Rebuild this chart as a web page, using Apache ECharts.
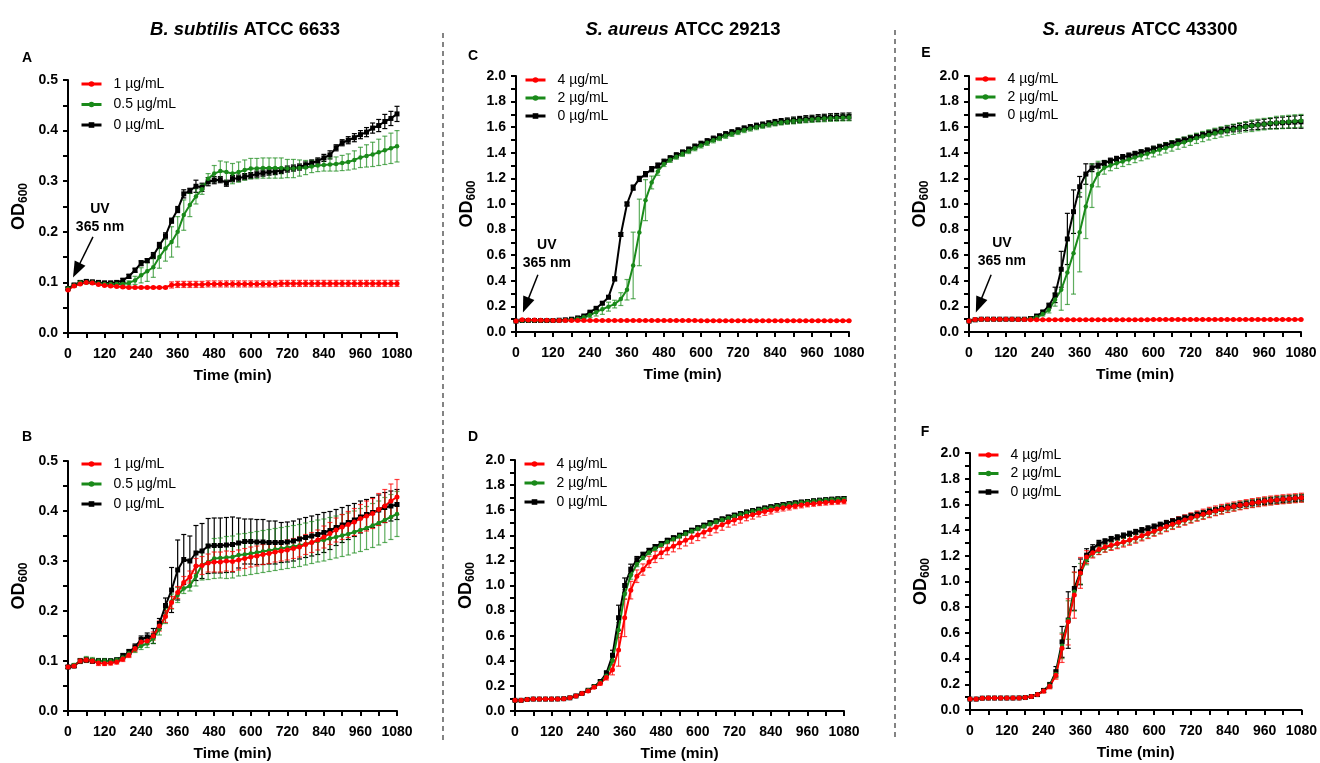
<!DOCTYPE html>
<html>
<head>
<meta charset="utf-8">
<script src="https://cdn.jsdelivr.net/npm/echarts@6/dist/echarts.min.js"></script>
<style>
  html, body { margin: 0; padding: 0; background: #fff; }
  #chart { width: 1320px; height: 763px; }
</style>
</head>
<body>
<div id="chart"></div>
<script>
// Sampling times (min)
const times = [0,20,40,60,80,100,120,140,160,180,200,220,240,260,280,300,320,340,360,380,400,420,440,460,480,500,520,540,560,580,600,620,640,660,680,700,720,740,760,780,800,820,840,860,880,900,920,940,960,980,1000,1020,1040,1060,1080];

const bsDoses = ['1 µg/mL', '0.5 µg/mL', '0 µg/mL'];
const saDoses = ['4 µg/mL', '2 µg/mL', '0 µg/mL'];

const bsTicks = ['0.0','0.1','0.2','0.3','0.4','0.5'];
const saTicks = ['0.0','0.2','0.4','0.6','0.8','1.0','1.2','1.4','1.6','1.8','2.0'];
const timeTicks = ['0','120','240','360','480','600','720','840','960','1080'];

// ---- A: B. subtilis, irradiated ----
const A_1 = [0.085,0.093,0.097,0.100,0.099,0.096,0.094,0.093,0.092,0.091,0.090,0.090,0.090,0.090,0.090,0.090,0.090,0.095,0.096,0.096,0.096,0.096,0.096,0.097,0.097,0.097,0.097,0.097,0.097,0.097,0.097,0.097,0.097,0.097,0.097,0.098,0.098,0.098,0.098,0.098,0.098,0.098,0.098,0.098,0.098,0.098,0.098,0.098,0.098,0.098,0.098,0.098,0.098,0.098,0.098];
const A_1e = [0.002,0.002,0.002,0.002,0.002,0.002,0.002,0.002,0.002,0.002,0.002,0.002,0.002,0.002,0.002,0.002,0.002,0.006,0.006,0.006,0.006,0.006,0.006,0.006,0.006,0.006,0.006,0.006,0.006,0.006,0.006,0.006,0.006,0.006,0.006,0.006,0.006,0.006,0.006,0.006,0.006,0.006,0.006,0.006,0.006,0.006,0.006,0.006,0.006,0.006,0.006,0.006,0.006,0.006,0.006];
const A_05 = [0.088,0.094,0.100,0.100,0.100,0.098,0.097,0.097,0.097,0.097,0.099,0.104,0.114,0.122,0.130,0.150,0.167,0.180,0.200,0.233,0.253,0.270,0.284,0.305,0.315,0.320,0.318,0.315,0.318,0.322,0.325,0.325,0.326,0.326,0.326,0.326,0.325,0.325,0.326,0.327,0.329,0.331,0.332,0.333,0.334,0.336,0.338,0.342,0.347,0.350,0.353,0.357,0.361,0.365,0.369];
const A_05e = [0.003,0.003,0.003,0.003,0.003,0.003,0.003,0.003,0.003,0.003,0.004,0.008,0.015,0.020,0.020,0.022,0.025,0.030,0.030,0.030,0.023,0.015,0.010,0.010,0.016,0.020,0.020,0.020,0.020,0.020,0.020,0.020,0.020,0.020,0.020,0.020,0.018,0.018,0.016,0.014,0.012,0.012,0.012,0.013,0.014,0.015,0.016,0.018,0.020,0.022,0.024,0.026,0.028,0.030,0.031];
const A_0 = [0.088,0.095,0.100,0.102,0.101,0.100,0.099,0.099,0.100,0.104,0.112,0.124,0.138,0.143,0.153,0.173,0.192,0.222,0.244,0.275,0.281,0.290,0.288,0.299,0.302,0.303,0.296,0.305,0.306,0.309,0.311,0.314,0.316,0.318,0.319,0.321,0.324,0.326,0.328,0.332,0.336,0.340,0.346,0.352,0.366,0.376,0.381,0.386,0.392,0.397,0.405,0.410,0.418,0.424,0.433];
const A_0e = [0.002,0.002,0.003,0.003,0.003,0.003,0.003,0.003,0.003,0.004,0.004,0.004,0.005,0.004,0.006,0.006,0.006,0.005,0.006,0.008,0.005,0.012,0.008,0.008,0.007,0.006,0.006,0.006,0.006,0.006,0.006,0.006,0.006,0.006,0.006,0.006,0.006,0.006,0.006,0.006,0.006,0.006,0.007,0.008,0.006,0.006,0.007,0.008,0.008,0.009,0.010,0.012,0.014,0.014,0.015];

// ---- B: B. subtilis, dark control ----
const B_1 = [0.088,0.090,0.100,0.102,0.100,0.096,0.095,0.096,0.098,0.104,0.112,0.125,0.138,0.140,0.150,0.170,0.189,0.217,0.237,0.257,0.268,0.290,0.291,0.296,0.298,0.298,0.300,0.299,0.302,0.305,0.308,0.310,0.313,0.315,0.318,0.320,0.322,0.325,0.328,0.333,0.337,0.342,0.348,0.355,0.362,0.368,0.373,0.378,0.385,0.390,0.395,0.403,0.410,0.420,0.428];
const B_1e = [0.003,0.003,0.004,0.004,0.004,0.005,0.004,0.004,0.004,0.005,0.005,0.006,0.007,0.007,0.008,0.010,0.012,0.012,0.012,0.012,0.012,0.015,0.018,0.018,0.020,0.020,0.020,0.020,0.020,0.020,0.020,0.020,0.020,0.020,0.020,0.020,0.020,0.020,0.020,0.020,0.020,0.020,0.022,0.022,0.024,0.025,0.026,0.027,0.028,0.030,0.030,0.032,0.033,0.034,0.035];
const B_05 = [0.088,0.092,0.100,0.103,0.102,0.100,0.100,0.100,0.102,0.107,0.115,0.123,0.130,0.135,0.145,0.164,0.190,0.219,0.232,0.245,0.250,0.270,0.292,0.298,0.305,0.306,0.307,0.308,0.312,0.313,0.315,0.317,0.319,0.321,0.323,0.325,0.327,0.329,0.331,0.334,0.337,0.340,0.342,0.345,0.348,0.351,0.354,0.358,0.362,0.366,0.371,0.376,0.382,0.388,0.394];
const B_05e = [0.003,0.003,0.005,0.006,0.005,0.005,0.005,0.004,0.004,0.005,0.006,0.006,0.007,0.008,0.010,0.012,0.015,0.015,0.015,0.010,0.010,0.020,0.030,0.035,0.040,0.040,0.042,0.042,0.042,0.042,0.042,0.042,0.042,0.042,0.042,0.042,0.042,0.042,0.042,0.042,0.042,0.042,0.042,0.042,0.042,0.042,0.042,0.042,0.043,0.043,0.044,0.044,0.045,0.045,0.045];
const B_0 = [0.088,0.090,0.100,0.102,0.100,0.100,0.100,0.100,0.102,0.110,0.118,0.128,0.143,0.148,0.150,0.175,0.211,0.242,0.282,0.303,0.300,0.316,0.320,0.330,0.331,0.331,0.332,0.333,0.336,0.339,0.339,0.338,0.338,0.337,0.337,0.337,0.338,0.340,0.344,0.347,0.350,0.353,0.357,0.361,0.367,0.372,0.377,0.382,0.388,0.393,0.397,0.402,0.407,0.410,0.413];
const B_0e = [0.003,0.003,0.004,0.004,0.004,0.004,0.004,0.004,0.004,0.005,0.005,0.006,0.007,0.008,0.015,0.010,0.015,0.045,0.060,0.050,0.050,0.055,0.055,0.055,0.055,0.055,0.055,0.055,0.050,0.045,0.045,0.045,0.045,0.043,0.043,0.040,0.040,0.040,0.040,0.040,0.040,0.040,0.040,0.038,0.036,0.035,0.034,0.033,0.032,0.030,0.030,0.030,0.030,0.030,0.030];

// ---- C: S. aureus ATCC 29213, irradiated ----
const C_4 = [0.085,0.095,0.094,0.093,0.092,0.091,0.090,0.090,0.090,0.090,0.089,0.089,0.089,0.089,0.089,0.089,0.089,0.089,0.089,0.089,0.089,0.089,0.089,0.089,0.089,0.089,0.089,0.089,0.089,0.089,0.088,0.088,0.088,0.088,0.088,0.088,0.088,0.088,0.088,0.088,0.088,0.088,0.088,0.088,0.088,0.088,0.088,0.088,0.088,0.088,0.088,0.088,0.088,0.088,0.088];
const C_4e = [0.004,0.004,0.004,0.004,0.004,0.004,0.004,0.004,0.004,0.004,0.004,0.004,0.004,0.004,0.004,0.004,0.004,0.004,0.004,0.004,0.004,0.004,0.004,0.004,0.004,0.004,0.004,0.004,0.004,0.004,0.004,0.004,0.004,0.004,0.004,0.004,0.004,0.004,0.004,0.004,0.004,0.004,0.004,0.004,0.004,0.004,0.004,0.004,0.004,0.004,0.004,0.004,0.004,0.004,0.004];
const C_2 = [0.085,0.090,0.090,0.090,0.090,0.090,0.090,0.090,0.092,0.095,0.103,0.115,0.133,0.155,0.178,0.198,0.218,0.257,0.330,0.520,0.778,1.030,1.168,1.254,1.313,1.345,1.370,1.392,1.414,1.436,1.458,1.478,1.498,1.516,1.533,1.548,1.563,1.578,1.590,1.601,1.611,1.621,1.630,1.637,1.643,1.648,1.653,1.657,1.661,1.664,1.667,1.670,1.672,1.674,1.675];
const C_2e = [0.004,0.004,0.004,0.004,0.004,0.004,0.004,0.004,0.004,0.004,0.006,0.010,0.020,0.030,0.040,0.035,0.030,0.050,0.080,0.260,0.260,0.160,0.050,0.030,0.020,0.020,0.020,0.020,0.020,0.020,0.020,0.020,0.020,0.020,0.020,0.020,0.020,0.020,0.020,0.020,0.020,0.020,0.020,0.020,0.020,0.022,0.022,0.022,0.023,0.023,0.024,0.024,0.025,0.025,0.025];
const C_0 = [0.085,0.090,0.090,0.090,0.090,0.090,0.090,0.092,0.095,0.100,0.110,0.125,0.155,0.185,0.225,0.272,0.415,0.762,1.000,1.128,1.196,1.233,1.272,1.300,1.330,1.357,1.380,1.402,1.425,1.448,1.470,1.490,1.510,1.528,1.545,1.560,1.575,1.590,1.600,1.611,1.620,1.630,1.638,1.645,1.650,1.655,1.660,1.665,1.668,1.672,1.675,1.678,1.680,1.682,1.683];
const C_0e = [0.004,0.004,0.004,0.004,0.004,0.004,0.004,0.004,0.004,0.005,0.005,0.006,0.008,0.010,0.010,0.012,0.015,0.015,0.015,0.020,0.020,0.020,0.020,0.020,0.020,0.020,0.020,0.020,0.020,0.020,0.020,0.020,0.020,0.020,0.020,0.020,0.020,0.020,0.020,0.020,0.020,0.020,0.022,0.022,0.022,0.024,0.024,0.025,0.025,0.026,0.026,0.027,0.027,0.028,0.028];

// ---- D: S. aureus ATCC 29213, dark control ----
const D_4 = [0.085,0.085,0.092,0.095,0.095,0.095,0.095,0.096,0.098,0.105,0.120,0.140,0.160,0.190,0.220,0.267,0.328,0.487,0.743,0.963,1.074,1.127,1.188,1.228,1.260,1.290,1.313,1.338,1.360,1.382,1.403,1.425,1.445,1.465,1.485,1.505,1.522,1.537,1.551,1.564,1.577,1.589,1.600,1.610,1.619,1.627,1.634,1.641,1.647,1.652,1.657,1.661,1.665,1.668,1.671];
const D_4e = [0.004,0.004,0.004,0.004,0.004,0.004,0.004,0.004,0.004,0.004,0.005,0.006,0.008,0.010,0.012,0.020,0.040,0.130,0.150,0.070,0.050,0.045,0.045,0.045,0.045,0.045,0.045,0.045,0.045,0.045,0.045,0.045,0.045,0.045,0.045,0.040,0.040,0.040,0.035,0.035,0.030,0.030,0.030,0.025,0.025,0.025,0.022,0.022,0.020,0.020,0.020,0.020,0.020,0.020,0.020];
const D_2 = [0.085,0.085,0.092,0.095,0.095,0.095,0.095,0.096,0.098,0.105,0.120,0.140,0.165,0.195,0.230,0.280,0.400,0.645,0.930,1.080,1.170,1.222,1.262,1.295,1.322,1.348,1.370,1.392,1.413,1.433,1.453,1.472,1.490,1.507,1.523,1.538,1.553,1.566,1.579,1.591,1.602,1.612,1.622,1.631,1.640,1.647,1.654,1.661,1.667,1.672,1.677,1.681,1.685,1.688,1.690];
const D_2e = [0.004,0.004,0.004,0.004,0.004,0.004,0.004,0.004,0.004,0.004,0.005,0.006,0.008,0.010,0.012,0.015,0.030,0.060,0.040,0.030,0.020,0.015,0.015,0.015,0.015,0.015,0.015,0.015,0.015,0.015,0.015,0.015,0.015,0.015,0.015,0.015,0.015,0.015,0.015,0.015,0.015,0.015,0.015,0.015,0.015,0.015,0.015,0.015,0.015,0.015,0.015,0.015,0.015,0.015,0.015];
const D_0 = [0.085,0.085,0.092,0.095,0.095,0.095,0.095,0.096,0.098,0.105,0.120,0.140,0.165,0.195,0.235,0.300,0.444,0.743,1.000,1.130,1.206,1.245,1.280,1.310,1.335,1.360,1.380,1.400,1.420,1.440,1.460,1.480,1.500,1.515,1.530,1.545,1.560,1.572,1.585,1.596,1.607,1.617,1.627,1.636,1.644,1.651,1.658,1.664,1.669,1.674,1.679,1.683,1.687,1.690,1.693];
const D_0e = [0.004,0.004,0.004,0.004,0.004,0.004,0.004,0.004,0.004,0.004,0.005,0.006,0.008,0.010,0.012,0.020,0.040,0.100,0.060,0.040,0.025,0.020,0.015,0.015,0.015,0.015,0.015,0.015,0.015,0.015,0.015,0.015,0.015,0.015,0.015,0.015,0.015,0.015,0.015,0.015,0.015,0.015,0.015,0.015,0.015,0.015,0.015,0.015,0.015,0.015,0.015,0.015,0.015,0.015,0.015];

// ---- E: S. aureus ATCC 43300, irradiated ----
const E_4 = [0.085,0.098,0.100,0.100,0.100,0.100,0.100,0.099,0.098,0.097,0.096,0.096,0.096,0.096,0.096,0.096,0.096,0.096,0.096,0.096,0.096,0.096,0.096,0.096,0.096,0.096,0.096,0.096,0.096,0.096,0.098,0.098,0.098,0.098,0.098,0.098,0.098,0.098,0.098,0.098,0.098,0.098,0.098,0.098,0.098,0.098,0.098,0.098,0.098,0.098,0.098,0.098,0.098,0.098,0.098];
const E_4e = [0.004,0.004,0.004,0.004,0.004,0.004,0.004,0.004,0.004,0.004,0.004,0.004,0.004,0.004,0.004,0.004,0.004,0.004,0.004,0.004,0.004,0.004,0.004,0.004,0.004,0.004,0.004,0.004,0.004,0.004,0.004,0.004,0.004,0.004,0.004,0.004,0.004,0.004,0.004,0.004,0.004,0.004,0.004,0.004,0.004,0.004,0.004,0.004,0.004,0.004,0.004,0.004,0.004,0.004,0.004];
const E_2 = [0.085,0.095,0.100,0.100,0.100,0.100,0.100,0.100,0.100,0.100,0.103,0.115,0.140,0.174,0.252,0.330,0.465,0.616,0.780,0.980,1.143,1.234,1.283,1.300,1.318,1.333,1.348,1.363,1.378,1.393,1.408,1.423,1.438,1.453,1.468,1.483,1.498,1.513,1.527,1.540,1.552,1.563,1.574,1.584,1.594,1.603,1.611,1.618,1.624,1.630,1.635,1.639,1.643,1.647,1.650];
const E_2e = [0.004,0.004,0.004,0.004,0.004,0.004,0.004,0.004,0.004,0.004,0.006,0.010,0.015,0.025,0.050,0.160,0.250,0.320,0.310,0.250,0.170,0.100,0.050,0.040,0.040,0.040,0.040,0.040,0.040,0.040,0.040,0.040,0.040,0.040,0.040,0.040,0.040,0.040,0.040,0.040,0.040,0.040,0.040,0.040,0.040,0.040,0.045,0.045,0.045,0.045,0.050,0.050,0.050,0.050,0.050];
const E_0 = [0.085,0.095,0.100,0.100,0.100,0.100,0.100,0.100,0.100,0.100,0.105,0.125,0.155,0.205,0.290,0.490,0.727,0.940,1.135,1.234,1.283,1.300,1.320,1.338,1.352,1.366,1.378,1.391,1.404,1.418,1.432,1.446,1.460,1.474,1.488,1.501,1.514,1.527,1.540,1.552,1.563,1.573,1.583,1.592,1.600,1.607,1.613,1.619,1.624,1.628,1.632,1.635,1.638,1.640,1.642];
const E_0e = [0.004,0.004,0.004,0.004,0.004,0.004,0.004,0.004,0.004,0.004,0.006,0.010,0.015,0.020,0.060,0.140,0.200,0.170,0.080,0.080,0.030,0.020,0.020,0.020,0.020,0.020,0.020,0.020,0.020,0.020,0.020,0.020,0.020,0.020,0.020,0.020,0.020,0.020,0.020,0.020,0.022,0.024,0.026,0.028,0.030,0.032,0.034,0.036,0.038,0.040,0.042,0.044,0.046,0.048,0.050];

// ---- F: S. aureus ATCC 43300, dark control ----
const F_4 = [0.085,0.085,0.092,0.093,0.093,0.093,0.093,0.093,0.094,0.097,0.105,0.120,0.148,0.185,0.270,0.480,0.686,0.894,1.067,1.190,1.223,1.250,1.268,1.282,1.295,1.308,1.322,1.338,1.356,1.374,1.392,1.410,1.428,1.445,1.462,1.478,1.494,1.509,1.523,1.537,1.550,1.562,1.573,1.583,1.593,1.602,1.610,1.617,1.624,1.630,1.635,1.640,1.644,1.648,1.652];
const F_4e = [0.004,0.004,0.004,0.004,0.004,0.004,0.004,0.004,0.004,0.004,0.006,0.010,0.015,0.020,0.030,0.110,0.180,0.180,0.120,0.050,0.040,0.040,0.040,0.040,0.040,0.040,0.040,0.040,0.040,0.040,0.040,0.040,0.040,0.040,0.040,0.040,0.040,0.040,0.040,0.040,0.038,0.038,0.036,0.036,0.035,0.035,0.035,0.035,0.035,0.035,0.035,0.035,0.035,0.035,0.035];
const F_2 = [0.085,0.085,0.092,0.093,0.093,0.093,0.093,0.093,0.094,0.097,0.105,0.120,0.150,0.190,0.280,0.500,0.700,0.920,1.060,1.170,1.220,1.240,1.260,1.278,1.292,1.306,1.320,1.336,1.353,1.370,1.388,1.406,1.424,1.441,1.458,1.474,1.490,1.505,1.519,1.533,1.546,1.558,1.570,1.581,1.591,1.600,1.608,1.615,1.622,1.628,1.633,1.638,1.642,1.646,1.650];
const F_2e = [0.004,0.004,0.004,0.004,0.004,0.004,0.004,0.004,0.004,0.004,0.006,0.010,0.015,0.020,0.030,0.100,0.150,0.150,0.080,0.040,0.030,0.030,0.030,0.030,0.030,0.030,0.030,0.030,0.030,0.030,0.030,0.030,0.030,0.030,0.030,0.030,0.030,0.030,0.030,0.030,0.030,0.030,0.030,0.030,0.030,0.030,0.030,0.030,0.030,0.030,0.030,0.030,0.030,0.030,0.030];
const F_0 = [0.085,0.085,0.092,0.093,0.093,0.093,0.093,0.093,0.094,0.097,0.105,0.120,0.152,0.194,0.298,0.530,0.700,0.946,1.075,1.205,1.256,1.295,1.312,1.330,1.343,1.357,1.371,1.385,1.399,1.413,1.427,1.441,1.455,1.469,1.483,1.496,1.509,1.521,1.533,1.545,1.556,1.567,1.577,1.587,1.596,1.604,1.611,1.618,1.624,1.629,1.634,1.639,1.643,1.647,1.650];
const F_0e = [0.004,0.004,0.004,0.004,0.004,0.004,0.004,0.004,0.004,0.004,0.006,0.010,0.015,0.020,0.040,0.120,0.220,0.170,0.100,0.050,0.030,0.025,0.020,0.020,0.020,0.020,0.020,0.020,0.020,0.020,0.020,0.020,0.020,0.020,0.020,0.020,0.020,0.020,0.020,0.020,0.020,0.020,0.020,0.020,0.020,0.022,0.022,0.022,0.024,0.024,0.025,0.025,0.025,0.025,0.025];

const FONT = "'Liberation Sans', Arial, Helvetica, sans-serif";

// line styles for [highest dose, middle dose, no drug]
const STYLES = [
  { color: '#ff0000', bar: 'rgba(255,0,0,0.75)', symbol: 'circle', size: 5 },
  { color: '#1a8a1a', bar: 'rgba(26,138,26,0.7)', symbol: 'circle', size: 4.5 },
  { color: '#000000', bar: '#000000', symbol: 'rect', size: 5 }
];

const panels = [
  { letter: 'A', letterPos: [27, 58], grid: { left: 68, top: 80, width: 329, height: 253 }, ticks: bsTicks, doses: bsDoses,
    vals: [A_1, A_05, A_0], errs: [A_1e, A_05e, A_0e], legend: { left: 80, top: 76, gap: 4.5 },
    uv: { from: [82, 0.19], to: [28, 0.124], text: [105, 0.227] } },
  { letter: 'B', letterPos: [27, 437], grid: { left: 68, top: 461, width: 329, height: 252 }, ticks: bsTicks, doses: bsDoses,
    vals: [B_1, B_05, B_0], errs: [B_1e, B_05e, B_0e], legend: { left: 80, top: 456, gap: 4 } },
  { letter: 'C', letterPos: [473, 56], grid: { left: 516, top: 76, width: 333, height: 256 }, ticks: saTicks, doses: saDoses,
    vals: [C_4, C_2, C_0], errs: [C_4e, C_2e, C_0e], legend: { left: 524, top: 72, gap: 2 },
    uv: { from: [71, 0.447], to: [32, 0.21], text: [100, 0.607] } },
  { letter: 'D', letterPos: [473, 437], grid: { left: 515, top: 460, width: 329, height: 252 }, ticks: saTicks, doses: saDoses,
    vals: [D_4, D_2, D_0], errs: [D_4e, D_2e, D_0e], legend: { left: 523, top: 456, gap: 3 } },
  { letter: 'E', letterPos: [926, 53], grid: { left: 969, top: 76, width: 332, height: 256 }, ticks: saTicks, doses: saDoses,
    vals: [E_4, E_2, E_0], errs: [E_4e, E_2e, E_0e], legend: { left: 974, top: 71, gap: 2 },
    uv: { from: [72, 0.447], to: [32, 0.21], text: [107, 0.622] } },
  { letter: 'F', letterPos: [925, 432], grid: { left: 970, top: 453, width: 332, height: 257 }, ticks: saTicks, doses: saDoses,
    vals: [F_4, F_2, F_0], errs: [F_4e, F_2e, F_0e], legend: { left: 977, top: 447, gap: 2.5 } }
];

const grids = [], xAxes = [], yAxes = [], legends = [], series = [];

function errorBarSeries(idx, vals, errs, color) {
  return {
    type: 'custom', xAxisIndex: idx, yAxisIndex: idx, silent: true, z: 2,
    data: times.map((t, i) => [t, vals[i] - errs[i], vals[i] + errs[i]]),
    encode: { x: 0, y: [1, 2] },
    renderItem: function (params, api) {
      const lo = api.coord([api.value(0), api.value(1)]);
      const hi = api.coord([api.value(0), api.value(2)]);
      const w = 2.5;
      const st = { stroke: color, lineWidth: 1.2 };
      return {
        type: 'group',
        children: [
          { type: 'line', shape: { x1: lo[0], y1: lo[1], x2: hi[0], y2: hi[1] }, style: st },
          { type: 'line', shape: { x1: lo[0] - w, y1: lo[1], x2: lo[0] + w, y2: lo[1] }, style: st },
          { type: 'line', shape: { x1: hi[0] - w, y1: hi[1], x2: hi[0] + w, y2: hi[1] }, style: st }
        ]
      };
    }
  };
}

panels.forEach((p, idx) => {
  grids.push(Object.assign({ containLabel: false }, p.grid));
  const yMax = parseFloat(p.ticks[p.ticks.length - 1]);
  const yStep = parseFloat(p.ticks[1]);
  xAxes.push({
    type: 'value', gridIndex: idx, min: 0, max: 1080, interval: 120,
    axisLine: { onZero: false, lineStyle: { color: '#000', width: 2 } },
    axisTick: { length: 5, lineStyle: { color: '#000', width: 2 } },
    minorTick: { show: true, splitNumber: 2, length: 5, lineStyle: { color: '#000', width: 2 } },
    splitLine: { show: false },
    axisLabel: { color: '#000', fontWeight: 'bold', fontSize: 14, fontFamily: FONT, margin: 14,
      formatter: (v) => timeTicks[Math.round(v / 120)] },
    name: 'Time (min)', nameLocation: 'middle', nameGap: 35,
    nameTextStyle: { color: '#000', fontWeight: 'bold', fontSize: 15.5, fontFamily: FONT }
  });
  yAxes.push({
    type: 'value', gridIndex: idx, min: 0, max: yMax, interval: yStep,
    axisLine: { show: true, onZero: false, lineStyle: { color: '#000', width: 2 } },
    axisTick: { show: true, length: 5, lineStyle: { color: '#000', width: 2 } },
    minorTick: { show: true, splitNumber: 2, length: 5, lineStyle: { color: '#000', width: 2 } },
    splitLine: { show: false },
    axisLabel: { color: '#000', fontWeight: 'bold', fontSize: 14, fontFamily: FONT, margin: 10,
      formatter: (v) => p.ticks[Math.round(v / yStep)] },
    name: '{a|OD}{b|600}', nameLocation: 'middle', nameGap: 38, nameRotate: 90,
    nameTextStyle: {
      rich: {
        a: { fontSize: 18, fontWeight: 'bold', fontFamily: FONT, color: '#000', lineHeight: 22 },
        b: { fontSize: 12, fontWeight: 'bold', fontFamily: FONT, color: '#000', lineHeight: 12, verticalAlign: 'bottom' }
      }
    }
  });
  legends.push({
    data: p.doses.slice(), orient: 'vertical', left: p.legend.left, top: p.legend.top, padding: 0,
    itemWidth: 20, itemHeight: 7, itemGap: p.legend.gap, selectedMode: false,
    lineStyle: { width: 3 },
    textStyle: { color: '#000', fontSize: 14, fontFamily: FONT, lineHeight: 16, padding: [0, 0, 0, 7] }
  });
  // no-drug curve first, highest dose drawn last (on top)
  [2, 1, 0].forEach((k) => {
    const st = STYLES[k];
    series.push(errorBarSeries(idx, p.vals[k], p.errs[k], st.bar));
    const s = {
      type: 'line', name: p.doses[k], xAxisIndex: idx, yAxisIndex: idx, z: 3,
      data: times.map((t, i) => [t, p.vals[k][i]]),
      symbol: st.symbol, symbolSize: st.size, showSymbol: true,
      lineStyle: { color: st.color, width: 2 },
      itemStyle: { color: st.color },
      emphasis: { disabled: true }
    };
    if (k === 2 && p.uv) {
      s.markLine = {
        silent: true, symbol: ['none', 'triangle'], symbolSize: [12, 16],
        label: { show: false },
        lineStyle: { color: '#000', width: 1.5, type: 'solid' },
        emphasis: { disabled: true },
        data: [[{ coord: p.uv.from }, { coord: p.uv.to }]]
      };
      s.markPoint = {
        silent: true, symbol: 'circle', symbolSize: 0,
        data: [{ coord: p.uv.text }],
        label: { show: true, position: 'inside', formatter: 'UV\n365 nm', color: '#000',
          fontWeight: 'bold', fontSize: 14, fontFamily: FONT, lineHeight: 18, align: 'center' }
      };
    }
    series.push(s);
  });
});

const titleRich = { i: { fontStyle: 'italic', fontWeight: 'bold', fontSize: 18.5, fontFamily: FONT, fill: '#000' } };
function titleText(x, text) {
  return { type: 'text', x: x, y: 30, style: { text: text, rich: titleRich, fontWeight: 'bold', fontSize: 18.5,
    fontFamily: FONT, fill: '#000', align: 'center', verticalAlign: 'middle' } };
}

const graphics = [
  titleText(245, '{i|B. subtilis} ATCC 6633'),
  titleText(683, '{i|S. aureus} ATCC 29213'),
  titleText(1140, '{i|S. aureus} ATCC 43300'),
  { type: 'line', shape: { x1: 443, y1: 33, x2: 443, y2: 740 }, style: { stroke: '#333', lineWidth: 1.2, lineDash: [5, 4] } },
  { type: 'line', shape: { x1: 895, y1: 30, x2: 895, y2: 740 }, style: { stroke: '#333', lineWidth: 1.2, lineDash: [5, 4] } }
];
panels.forEach((p) => {
  graphics.push({ type: 'text', x: p.letterPos[0], y: p.letterPos[1],
    style: { text: p.letter, fontWeight: 'bold', fontSize: 14, fontFamily: FONT, fill: '#000', align: 'center', verticalAlign: 'middle' } });
});

const chart = echarts.init(document.getElementById('chart'), null, { renderer: 'canvas' });
chart.setOption({
  backgroundColor: '#fff',
  animation: false,
  grid: grids,
  xAxis: xAxes,
  yAxis: yAxes,
  legend: legends,
  series: series,
  graphic: graphics
});
</script>
</body>
</html>
